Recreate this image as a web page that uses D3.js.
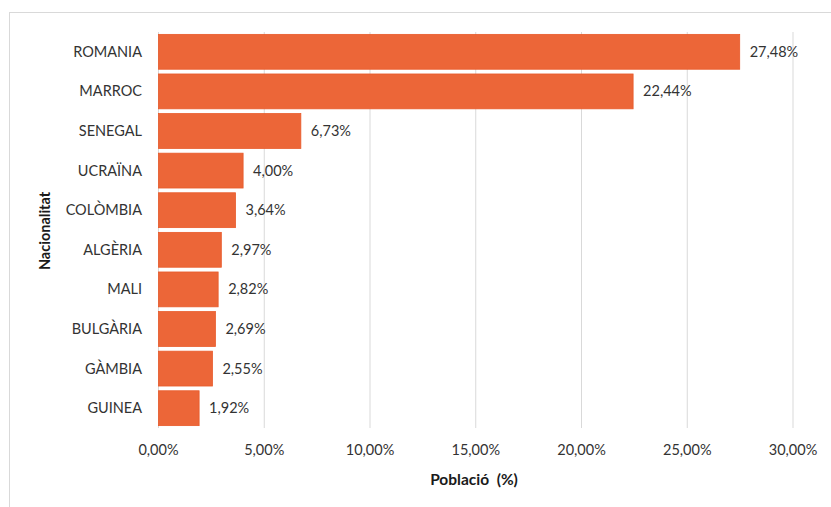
<!DOCTYPE html>
<html><head><meta charset="utf-8">
<script src="https://cdn.jsdelivr.net/npm/d3@7"></script>
<style>body{margin:0;background:#fff;} svg{display:block;} text{white-space:pre;}</style>
</head><body>
<script>
const categories = ["ROMANIA","MARROC","SENEGAL","UCRAÏNA","COLÒMBIA","ALGÈRIA","MALI","BULGÀRIA","GÀMBIA","GUINEA"];
const values = [27.48,22.44,6.73,4.00,3.64,2.97,2.82,2.69,2.55,1.92];
const xTicks = [0,5,10,15,20,25,30];
const xTitle = "Població  (%)";
const yTitle = "Nacionalitat";

const W = 831, H = 507;
const font = "Lato, 'Open Sans', sans-serif";
const fs = 14.5;
const fmt = v => v.toFixed(2).replace(".", ",") + "%";

const svg = d3.select("body").append("svg").attr("width", W).attr("height", H);
svg.append("rect").attr("x", 9.5).attr("y", 12.5).attr("width", W + 10).attr("height", H + 10)
  .attr("fill", "#fff").attr("stroke", "#d9d9d9");

const x = d3.scaleLinear().domain([0, 30]).range([158.5, 793]);
const y = d3.scaleBand().domain(categories).range([32, 428]).paddingInner(0.12).paddingOuter(0.06);

svg.append("g").selectAll("line").data(xTicks).join("line")
  .attr("x1", d => x(d)).attr("x2", d => x(d)).attr("y1", 32).attr("y2", 428)
  .attr("stroke", "#d9d9d9").attr("stroke-width", 1);

svg.append("g").selectAll("rect").data(values).join("rect")
  .attr("x", x(0)).attr("y", (d, i) => y(categories[i]))
  .attr("width", d => x(d) - x(0)).attr("height", y.bandwidth())
  .attr("fill", "#EC6638").attr("stroke", "#E85A2A").attr("stroke-width", 0.8);

svg.append("g").selectAll("text").data(values).join("text")
  .attr("x", d => x(d) + 10).attr("y", (d, i) => y(categories[i]) + y.bandwidth() / 2)
  .attr("dy", "0.35em").attr("font-family", font).attr("font-size", fs).attr("fill", "#333")
  .text(fmt);

svg.append("g").selectAll("text").data(categories).join("text")
  .attr("x", 142).attr("y", d => y(d) + y.bandwidth() / 2)
  .attr("dy", "0.35em").attr("text-anchor", "end").attr("font-family", font).attr("font-size", fs).attr("fill", "#333")
  .text(d => d);

svg.append("g").selectAll("text").data(xTicks).join("text")
  .attr("x", d => x(d)).attr("y", 450).attr("dy", "0.35em").attr("text-anchor", "middle")
  .attr("font-family", font).attr("font-size", fs).attr("fill", "#333")
  .text(d => d.toFixed(2).replace(".", ",") + "%");

svg.append("text").attr("x", 474).attr("y", 480).attr("dy", "0.35em").attr("text-anchor", "middle")
  .attr("font-family", font).attr("font-size", 15.5).attr("font-weight", "bold").attr("fill", "#1a1a1a")
  .text(xTitle);

svg.append("text").attr("transform", "translate(45,231) rotate(-90)").attr("dy", "0.35em").attr("text-anchor", "middle")
  .attr("font-family", font).attr("font-size", fs).attr("font-weight", "bold").attr("fill", "#1a1a1a")
  .text(yTitle);
</script>
</body></html>
